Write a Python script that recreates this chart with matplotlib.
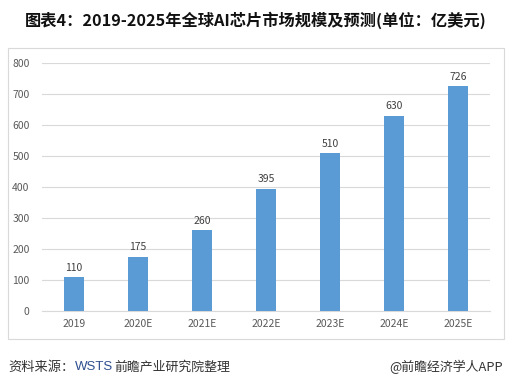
import matplotlib.pyplot as plt
from matplotlib.patches import Rectangle

plt.rcParams['font.family'] = ['Noto Sans CJK SC', 'DejaVu Sans']

years = ["2019", "2020E", "2021E", "2022E", "2023E", "2024E", "2025E"]
market = [110, 175, 260, 395, 510, 630, 726]
yticks = [0, 100, 200, 300, 400, 500, 600, 700, 800]

BAR_COLOR = "#5B9BD5"
W, H = 512, 388

fig = plt.figure(figsize=(W / 100, H / 100), dpi=100)
fig.patch.set_facecolor("white")

# outer chart frame
fig.patches.append(Rectangle((8 / W, 1 - 339 / H), 496 / W, 291 / H,
                             transform=fig.transFigure, fill=False,
                             edgecolor="#d9d9d9", linewidth=0.8))

ax = fig.add_axes([42 / W, 1 - 311 / H, 448 / W, 248 / H])
x = list(range(len(years)))
ax.bar(x, market, width=0.31, color=BAR_COLOR, zorder=3)
for xi, v in zip(x, market):
    ax.text(xi, v + 14, str(v), ha="center", va="bottom", fontsize=7.5, color="#404040")

ax.set_xlim(-0.5, len(years) - 0.5)
ax.set_ylim(0, 800)
ax.set_yticks(yticks)
ax.set_xticks(x)
ax.set_xticklabels(years)
ax.tick_params(axis="both", length=0, labelsize=7.5, colors="#595959")
ax.tick_params(axis="y", pad=9)
ax.tick_params(axis="x", pad=6)
for spine in ("top", "right", "left"):
    ax.spines[spine].set_visible(False)
ax.spines["bottom"].set_color("#d9d9d9")
ax.grid(axis="y", color="#d9d9d9", linewidth=0.8)
ax.set_axisbelow(True)

fig.text(0.5, 1 - 20 / H, "图表4：2019-2025年全球AI芯片市场规模及预测(单位：亿美元)",
         ha="center", va="center", fontsize=11.7, fontweight="bold", color="#111111")
fig.text(8 / W, 1 - 367 / H, "资料来源：", ha="left", va="center", fontsize=9.5, color="#333333")
fig.text(75 / W, 1 - 367 / H, "WSTS", ha="left", va="center", fontsize=9.5,
         color="#2f4f8f", family=["Liberation Sans", "DejaVu Sans"])
fig.text(114 / W, 1 - 367 / H, "前瞻产业研究院整理", ha="left", va="center", fontsize=9.3, color="#333333")
fig.text(503 / W, 1 - 367 / H, "@前瞻经济学人APP", ha="right", va="center", fontsize=9.3, color="#333333")

fig.savefig("out.png", dpi=100, facecolor="white")
